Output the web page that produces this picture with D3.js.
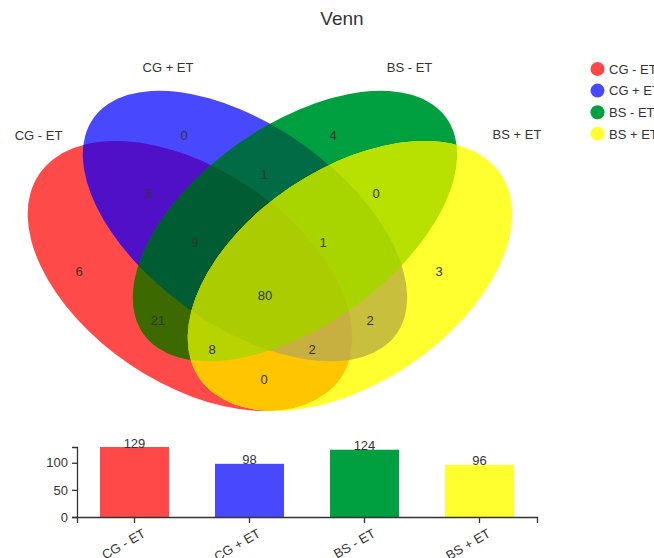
<!DOCTYPE html>
<html><head><meta charset="utf-8">
<script src="https://cdn.jsdelivr.net/npm/d3@7"></script>
<style>body{margin:0;background:#fff;}svg{display:block;font-family:"Liberation Sans",Arial,sans-serif;}</style>
</head><body>
<script>
// ---- data ----
const setNames = ["CG - ET", "CG + ET", "BS - ET", "BS + ET"];
const setSizes = [129, 98, 124, 96];
const regionKeys =   ["A","B","C","D","AB","BC","CD","AC","AD","BD","ABC","BCD","ACD","ABD","ABCD"];
const regionCounts = [ 6,  0,  4,  3,  3,   1,   0,   21,  0,   2,   9,    1,    8,    2,    80];
const yTicks = [0, 50, 100];

// ---- styles / layout ----
const setColors = ["#ff4848", "#4848ff", "#00a040", "#ffff30"];
const regionColors = {
  A:"#ff4a4a", B:"#4848ff", C:"#00a040", D:"#ffff30",
  AB:"#5010c8", BC:"#006b45", CD:"#b8e000", AC:"#3c6a00", AD:"#ffc600", BD:"#c8c03c",
  ABC:"#005c32", BCD:"#a8d400", ACD:"#b8d400", ABD:"#c8b040", ABCD:"#aacc00"
};
// label anchor positions for each region (layout)
const regionLabelPos = {
  A:[79,276], B:[184,139.5], C:[333,139.5], D:[439,275.5],
  AB:[148,198], BC:[264,178.5], CD:[376,198], AC:[158,325], AD:[264,384], BD:[370,325],
  ABC:[195,247], BCD:[323,247], ACD:[212,354], ABD:[312,354], ABCD:[265,300]
};
const setLabelPos = [[38.5,139.5],[168,71.7],[409.5,71.7],[517,139]];
// ellipse geometry
const ellipses = [
  {cx:190, cy:276, rx:182, ry:107, rot:34},
  {cx:245, cy:226, rx:186, ry:100, rot:35.5},
  {cx:295, cy:226, rx:186, ry:100, rot:-35.5},
  {cx:350, cy:276, rx:182, ry:107, rot:-34}
];
const letters = ["A","B","C","D"];

const W = 654, H = 558;
const svg = d3.select("body").append("svg").attr("width", W).attr("height", H);
svg.append("rect").attr("width", W).attr("height", H).attr("fill", "#fff");

svg.append("text").attr("x", 342).attr("y", 25).attr("text-anchor", "middle")
  .attr("font-size", 19).attr("fill", "#333").text("Venn");

const defs = svg.append("defs");
ellipses.forEach((e, i) => {
  defs.append("clipPath").attr("id", "clip" + i)
    .append("ellipse").attr("cx", e.cx).attr("cy", e.cy).attr("rx", e.rx).attr("ry", e.ry)
    .attr("transform", `rotate(${e.rot},${e.cx},${e.cy})`);
});

const venn = svg.append("g");
const ordered = regionKeys.map((k, i) => ({key:k, count:regionCounts[i]}))
  .sort((a, b) => a.key.length - b.key.length);
ordered.forEach(r => {
  const idx = r.key.split("").map(l => letters.indexOf(l));
  let g = venn;
  idx.slice(0, -1).forEach(i => { g = g.append("g").attr("clip-path", `url(#clip${i})`); });
  const e = ellipses[idx[idx.length - 1]];
  g.append("ellipse").attr("cx", e.cx).attr("cy", e.cy).attr("rx", e.rx).attr("ry", e.ry)
    .attr("transform", `rotate(${e.rot},${e.cx},${e.cy})`)
    .attr("fill", regionColors[r.key]);
});

ordered.forEach(r => {
  const p = regionLabelPos[r.key];
  svg.append("text").attr("x", p[0]).attr("y", p[1]).attr("text-anchor", "middle")
    .attr("font-size", 13).attr("fill", "#333").text(r.count);
});
setNames.forEach((n, i) => {
  svg.append("text").attr("x", setLabelPos[i][0]).attr("y", setLabelPos[i][1])
    .attr("text-anchor", "middle").attr("font-size", 13).attr("fill", "#333").text(n);
});

// legend
const leg = svg.append("g");
setNames.forEach((n, i) => {
  const y = 69 + i * 21.6;
  leg.append("circle").attr("cx", 597.5).attr("cy", y).attr("r", 7).attr("fill", setColors[i]);
  leg.append("text").attr("x", 609).attr("y", y + 4.7).attr("font-size", 13).attr("fill", "#333").text(n);
});

// bar chart
const x = d3.scaleBand().domain(setNames).range([77, 537]).paddingInner(0.4).paddingOuter(0.2);
const y = d3.scaleLinear().domain([0, d3.max(setSizes)]).range([517, 447]);
const bars = svg.append("g");
bars.selectAll("rect").data(setNames).join("rect")
  .attr("x", d => x(d)).attr("width", x.bandwidth())
  .attr("y", (d, i) => y(setSizes[i])).attr("height", (d, i) => y(0) - y(setSizes[i]))
  .attr("fill", (d, i) => setColors[i]);
bars.selectAll("text.v").data(setNames).join("text").attr("class", "v")
  .attr("x", d => x(d) + x.bandwidth() / 2).attr("y", (d, i) => y(setSizes[i]) + 0.5)
  .attr("text-anchor", "middle").attr("font-size", 13).attr("fill", "#333")
  .text((d, i) => setSizes[i]);

const ya = svg.append("g").attr("transform", "translate(77,0)")
  .call(d3.axisLeft(y).tickValues(yTicks).tickSize(5).tickPadding(4));
const xa = svg.append("g").attr("transform", "translate(0,517)")
  .call(d3.axisBottom(x).tickSize(6).tickFormat(() => ""));
[ya, xa].forEach(a => {
  a.selectAll("path,line").attr("stroke", "#333").attr("stroke-width", 1.3);
  a.selectAll("text").attr("font-size", 13).attr("fill", "#333").attr("font-family", "Liberation Sans, Arial, sans-serif");
});
svg.append("g").selectAll("text").data(setNames).join("text")
  .attr("transform", d => `translate(${x(d) + x.bandwidth() / 2 + 12},536) rotate(-30)`)
  .attr("text-anchor", "end").attr("font-size", 13).attr("fill", "#333").text(d => d);
</script>
</body></html>
